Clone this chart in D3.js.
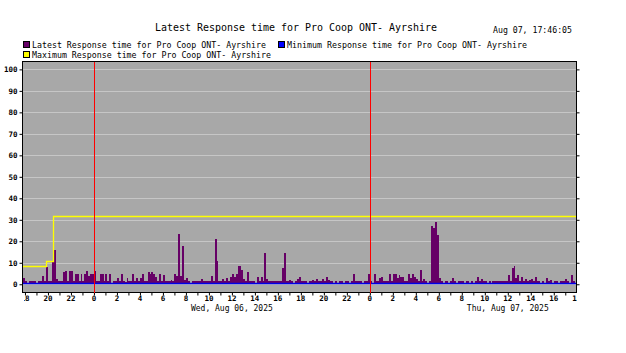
<!DOCTYPE html>
<html>
<head>
<meta charset="utf-8">
<script src="https://cdn.jsdelivr.net/npm/d3@7"></script>
<style>
  body { margin: 0; background: #fff; }
  text { font-family: "DejaVu Sans Mono", monospace; fill: #000; }
</style>
</head>
<body>
<div id="container"></div>
<script>
/* DATA */
const chartTitle = "Latest Response time for Pro Coop ONT- Ayrshire";
const stamp = "Aug 07, 17:46:05";
const legendNames = [
  "Latest Response time for Pro Coop ONT- Ayrshire",
  "Minimum Response time for Pro Coop ONT- Ayrshire",
  "Maximum Response time for Pro Coop ONT- Ayrshire"
];
const dayLabels = ["Wed, Aug 06, 2025", "Thu, Aug 07, 2025"];
const yTicks = [0, 10, 20, 30, 40, 50, 60, 70, 80, 90, 100];

// 10 minute samples, first one at 17:50 Aug 5
const aug5Values = [
  3,
  1.5, 0.5, 1.5, 1.5, 1.5, 1.5,   // 18h
  0.5, 1.5, 1.5, 4, 1.5, 8,       // 19h
  1.5, 1.5, 10.5, 16, 2.5, 1.5,   // 20h
  1.5, 1.5, 5.5, 6, 1.5, 6,       // 21h
  6, 1.5, 5, 5, 1.5, 5,           // 22h
  1.5, 5, 6, 4, 5, 5              // 23h
];
const aug6Values = [
  6, 1.5, 1.5, 5, 5, 1.5,         // 0h
  5, 1.5, 5, 0.5, 1.5, 1.5,
  3, 1.5, 5, 1.5, 1, 3,
  1.5, 1.5, 5, 1.5, 3, 1.5,
  3, 5, 1.5, 1.5, 5.5, 5,
  5.5, 5, 3.5, 1.5, 5, 1.5,       // 5h
  4.5, 1.5, 1.5, 1.5, 2, 1.5,
  5, 4, 23.5, 4, 18, 2,
  3, 1.5, 0.5, 1.5, 1.5, 1.5,
  1.5, 1.5, 2.5, 1.5, 1.5, 1.5,
  1.5, 4, 1.5, 21, 11, 1.5,       // 10h
  1.5, 2.5, 1.5, 3, 1.5, 3.5,
  5, 3.5, 5, 8.5, 8.5, 6.5,
  2.5, 1.5, 5.5, 1.5, 1.5, 1.5,
  0.5, 3.5, 1.5, 3.5, 1.5, 14.5,
  2.5, 1.5, 1.5, 1.5, 1.5, 1.5,   // 15h
  1.5, 1.5, 7.5, 14.5, 1.5, 1.5,
  2, 1.5, 0.5, 1.5, 2.5, 3.5,
  1.5, 1.5, 1.5, 0.5, 1.5, 1.5,
  2, 1.5, 2.5, 1.5, 1.5, 2.5,
  1.5, 3.5, 2, 1.5, 1.5, 0.5,     // 20h
  1.5, 0.5, 1.5, 1.5, 0.5, 1.5,
  1.5, 0.5, 1.5, 5, 1.5, 1.5,
  1.5, 1.5, 0.5, 1.5, 1.5, 5
];
const aug7Values = [
  1.5, 0.5, 5, 1.5, 1.5, 3,       // 0h
  3.5, 1.5, 1.5, 1.5, 5, 1.5,
  5, 5, 3, 4.5, 3.5, 3.5,
  1.5, 1.5, 5, 3, 5, 3.5,
  2.5, 1.5, 6.5, 1.5, 2.5, 1.5,
  0.5, 1.5, 27, 26, 29, 23,       // 5h
  3, 1.5, 0.5, 1.5, 1.5, 0.5,
  1.5, 3, 1.5, 0.5, 1.5, 1.5,
  1.5, 0.5, 1.5, 1.5, 0.5, 1.5,
  0.5, 1.5, 3.5, 1.5, 2.5, 1.5,
  1.5, 0.5, 1.5, 0.5, 1.5, 1.5,   // 10h
  1.5, 1.5, 1.5, 1.5, 1.5, 1.5,
  4.5, 1.5, 7.5, 8.5, 3, 4.5,
  1.5, 3.5, 1.5, 2.5, 1.5, 2,
  2.5, 1.5, 3.5, 1.5, 1.5, 0.5,
  1.5, 0.5, 3, 1.5, 2, 0.5,       // 15h
  1.5, 1.5, 0.5, 1.5, 1.5, 1.5,
  2.5, 1.5, 0.5, 4.5, 1.5
];

// maximum steps: [hour offset from 17:46 Aug 5, value]
const maxSteps = [[0, 8.5], [2.03, 11], [2.65, 32], [48.2, 32]];
const minSteps = [[0, 0.6], [48.2, 0.6]];

/* SCALES */
const width = 626, height = 353;
const plot = {left: 22, right: 576, top: 61, bottom: 292};

const t0 = new Date(2025, 7, 5, 17, 46, 5);
const t1 = new Date(2025, 7, 7, 17, 56);
const firstSample = new Date(2025, 7, 5, 17, 50);
const step = 10 * 60 * 1000;
const hour = 3600 * 1000;

const values = aug5Values.concat(aug6Values, aug7Values);
const samples = values.map((v, i) => ({t: new Date(+firstSample + i * step), v}));

const xScale = d3.scaleTime().domain([t0, t1]).range([plot.left + 0.3, plot.right]);
const yScale = d3.scaleLinear().domain([-3.6, 103.9]).range([plot.bottom, plot.top]);
const px = v => Math.round(v) + 0.5;

const svg = d3.select("#container").append("svg")
  .attr("width", width).attr("height", height);

svg.append("rect").attr("width", width).attr("height", height).attr("fill", "#fff");

// plot background
svg.append("rect")
  .attr("x", plot.left).attr("y", plot.top)
  .attr("width", plot.right - plot.left).attr("height", plot.bottom - plot.top)
  .attr("fill", "#a8a8a8");

// grid
svg.append("g").selectAll("line").data(yTicks).join("line")
  .attr("x1", plot.left).attr("x2", plot.right)
  .attr("y1", d => px(yScale(d))).attr("y2", d => px(yScale(d)))
  .attr("stroke", "#c6c6c6").attr("stroke-width", 1);

// latest response bars
svg.append("g").selectAll("rect").data(samples).join("rect")
  .attr("x", d => xScale(d.t))
  .attr("width", d => xScale(new Date(+d.t + step)) - xScale(d.t))
  .attr("y", d => yScale(d.v))
  .attr("height", d => yScale(0) - yScale(d.v))
  .attr("fill", "#660066")
  .attr("shape-rendering", "crispEdges");

// minimum and maximum lines
const stepLine = d3.line()
  .x(d => Math.min(px(xScale(new Date(+t0 + d[0] * hour))), plot.right))
  .y(d => px(yScale(d[1])))
  .curve(d3.curveStepAfter);

svg.append("path").datum(minSteps).attr("d", stepLine)
  .attr("fill", "none").attr("stroke", "#0000e8").attr("stroke-width", 1.6);
svg.append("path").datum(maxSteps).attr("d", stepLine)
  .attr("fill", "none").attr("stroke", "#ffff00").attr("stroke-width", 1.3);

// frame
svg.append("rect")
  .attr("x", plot.left + 0.5).attr("y", plot.top + 0.5)
  .attr("width", plot.right - plot.left).attr("height", plot.bottom - plot.top)
  .attr("fill", "none").attr("stroke", "#000").attr("stroke-width", 1);

/* AXES */
const yAxisL = d3.axisLeft(yScale).tickValues(yTicks).tickSize(3).tickPadding(2);
const yAxisR = d3.axisRight(yScale).tickValues(yTicks).tickSize(3).tickFormat("");

const gL = svg.append("g").attr("transform", `translate(${plot.left + 0.5},0)`).call(yAxisL);
const gR = svg.append("g").attr("transform", `translate(${plot.right + 0.5},0)`).call(yAxisR);

// hourly ticks, labels every 2 hours
const hourTicks = d3.timeHour.range(new Date(2025, 7, 5, 18), new Date(2025, 7, 7, 18, 1));
const xAxis = d3.axisBottom(xScale)
  .tickValues(hourTicks)
  .tickSize(3).tickPadding(1)
  .tickFormat(d => d.getHours() % 2 === 0 ? String(d.getHours()) : "");

const gX = svg.append("g").attr("transform", `translate(0,${plot.bottom + 0.5})`).call(xAxis);

[gL, gR, gX].forEach(g => {
  g.select(".domain").remove();
  g.selectAll("line").attr("stroke", "#000");
  g.selectAll("text").style("font-family", '"DejaVu Sans Mono", monospace')
    .style("font-size", "7.5px").style("font-weight", "bold").attr("fill", "#000");
});
gX.selectAll(".tick").filter(d => xScale(d) > plot.right + 0.5).select("line").remove();

// x labels are clipped at the plot edges
svg.append("clipPath").attr("id", "xclip").append("rect")
  .attr("x", plot.left + 2).attr("y", plot.bottom).attr("width", plot.right - plot.left - 1).attr("height", 12);
const xLabelGroup = svg.append("g").attr("clip-path", "url(#xclip)");
gX.selectAll(".tick").each(function(d) {
  const label = d3.select(this).select("text");
  const txt = label.text();
  if (txt) {
    xLabelGroup.append("text")
      .attr("x", xScale(d)).attr("y", plot.bottom + 8.5)
      .attr("text-anchor", "middle")
      .style("font-size", "7.5px").style("font-weight", "bold")
      .text(txt);
  }
  label.remove();
});

// midnight lines, drawn on top
const midnights = [new Date(2025, 7, 6), new Date(2025, 7, 7)];
svg.append("g").selectAll("rect").data(midnights).join("rect")
  .attr("x", d => Math.round(xScale(d))).attr("width", 1)
  .attr("y", plot.top + 1).attr("height", plot.bottom - plot.top)
  .attr("fill", "#ff0000");

// day labels
svg.append("g").selectAll("text").data(dayLabels).join("text")
  .attr("x", (d, i) => xScale(new Date(2025, 7, 6 + i, 12)))
  .attr("y", 310.5)
  .attr("text-anchor", "middle")
  .style("font-size", "8px")
  .text(d => d);

/* TITLE AND LEGEND */
svg.append("text")
  .attr("x", 155).attr("y", 31)
  .attr("textLength", 282).attr("lengthAdjust", "spacingAndGlyphs")
  .style("font-size", "10.5px")
  .text(chartTitle);

svg.append("text")
  .attr("x", 493).attr("y", 33)
  .attr("textLength", 79).attr("lengthAdjust", "spacingAndGlyphs")
  .style("font-size", "8px")
  .text(stamp);

const legendItems = [
  {name: legendNames[0], color: "#660066", x: 23, y: 41, len: 234},
  {name: legendNames[1], color: "#0000ff", x: 278, y: 41, len: 240},
  {name: legendNames[2], color: "#ffff00", x: 23, y: 51, len: 239}
];
const lg = svg.append("g").selectAll("g").data(legendItems).join("g");
lg.append("rect")
  .attr("x", d => d.x + 0.5).attr("y", d => d.y + 0.5)
  .attr("width", 6).attr("height", 6)
  .attr("fill", d => d.color).attr("stroke", "#000").attr("stroke-width", 1);
lg.append("text")
  .attr("x", d => d.x + 9).attr("y", d => d.y + 6.5)
  .attr("textLength", d => d.len).attr("lengthAdjust", "spacingAndGlyphs")
  .style("font-size", "8px")
  .text(d => d.name);
</script>
</body>
</html>
